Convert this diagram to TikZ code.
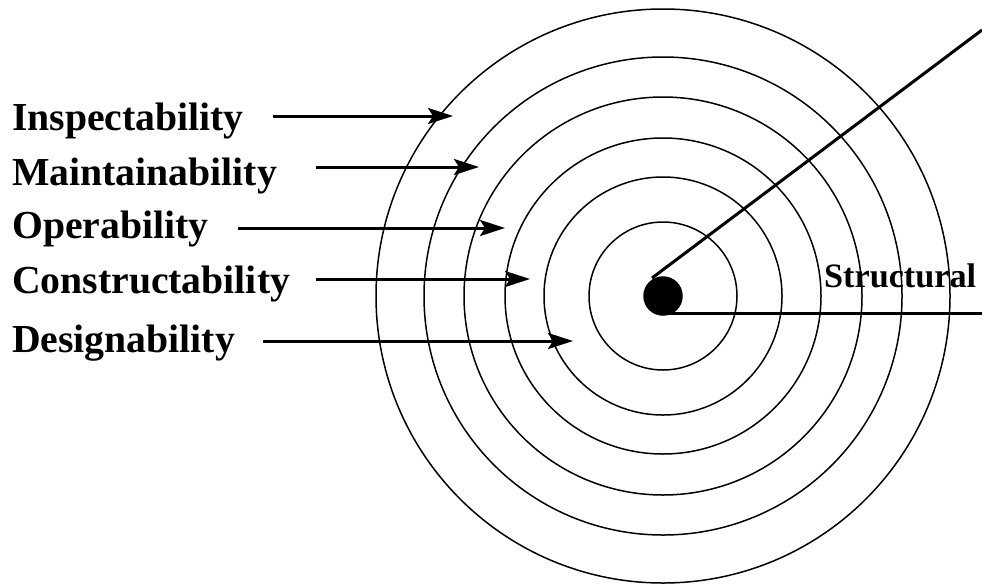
\documentclass[tikz,border=0pt]{standalone}
\usepackage{fontspec}
\setmainfont{Liberation Serif}
\usetikzlibrary{arrows.meta}
\begin{document}
\begin{tikzpicture}[x=1pt,y=-1pt,
  ring/.style={draw=black,line width=1.5pt},
  lbl/.style={inner sep=0pt,anchor=base west,font=\fontsize{39.7}{44}\selectfont\bfseries},
  arr/.style={line width=3pt,-{Stealth[length=25pt,width=16pt,inset=5pt]}},
  ray/.style={line width=3pt}]
\useasboundingbox (0,0) rectangle (982,584);
% concentric rings
\foreach \r in {287,239,199,158,119,74}
  \draw[ring] (663,296) circle (\r);
\node[fill=black,ellipse/.style={},circle,minimum size=39.5pt,inner sep=0pt] (dot) at (663,296) {};
% rays
\coordinate (rayA) at (652,278);
\coordinate (rayAend) at (982,30);
\coordinate (rayB) at (660,313);
\coordinate (rayBend) at (982,313);
\draw[ray] (rayA) -- (rayAend);
\draw[ray] (rayB) -- (rayBend);
\node[inner sep=0pt,anchor=base west,font=\fontsize{34.2}{38}\selectfont\bfseries] (structural) at (824,287) {Structural};
% labels
\node[lbl] (insp) at (12,130) {Inspectability};
\node[lbl] (main) at (12,185) {Maintainability};
\node[lbl] (oper) at (12,238) {Operability};
\node[lbl] (cons) at (12,293) {Constructability};
\node[lbl] (desi) at (12,352) {Designability};
% arrow ends
\coordinate (t1) at (273,116); \coordinate (h1) at (453,116);
\coordinate (t2) at (316,167); \coordinate (h2) at (479,167);
\coordinate (t3) at (238,228); \coordinate (h3) at (505,228);
\coordinate (t4) at (316,279); \coordinate (h4) at (530,279);
\coordinate (t5) at (263,341); \coordinate (h5) at (573,341);
\draw[arr] (t1) -- (h1);
\draw[arr] (t2) -- (h2);
\draw[arr] (t3) -- (h3);
\draw[arr] (t4) -- (h4);
\draw[arr] (t5) -- (h5);
\end{tikzpicture}
\end{document}
